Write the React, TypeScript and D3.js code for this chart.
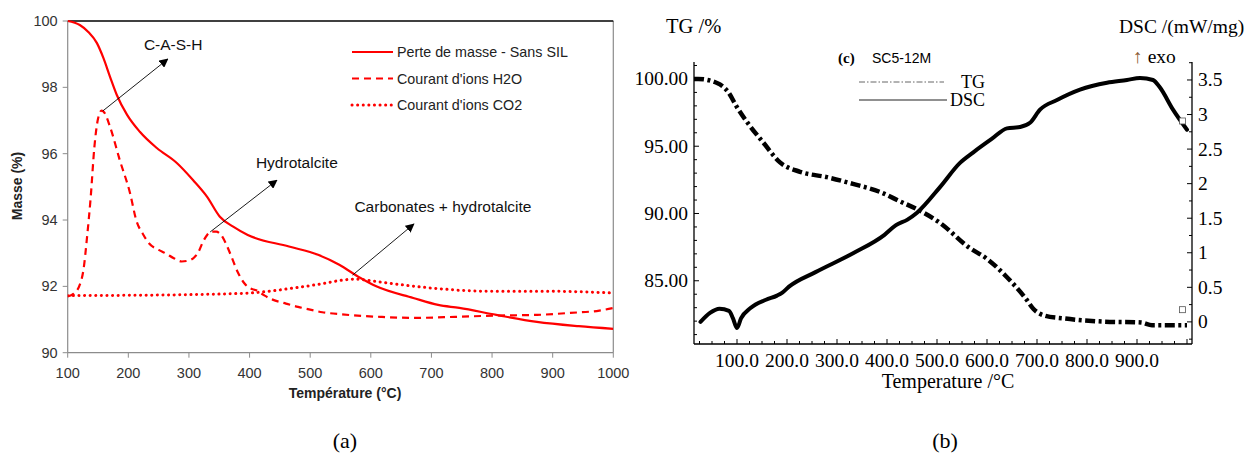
import React from 'react';
import * as d3 from 'd3';

// ---------- Panel (a) data ----------
const massT = [100, 120, 134, 148, 159, 170, 181, 198, 219, 247, 280, 307, 330, 351, 373, 397, 465, 513, 548, 583, 609, 670, 711, 746, 807, 874, 943, 1000];
const massV = [100, 99.88, 99.67, 99.34, 98.88, 98.31, 97.77, 97.17, 96.66, 96.17, 95.72, 95.2, 94.7, 94.1, 93.8, 93.55, 93.2, 92.95, 92.65, 92.25, 92.0, 91.65, 91.44, 91.35, 91.14, 90.93, 90.8, 90.72];

const h2oT = [100, 110, 120, 126, 132, 138, 144, 150, 156, 160, 170, 186, 203, 213, 225, 234, 250, 261, 275, 288, 300, 309, 316, 322, 330, 337, 345, 353, 362, 370, 380, 391, 400, 411, 425, 438, 460, 480, 500, 520, 545, 568, 616, 670, 739, 807, 874, 929, 977, 1000];
const h2oV = [91.7, 91.78, 92.05, 92.5, 93.5, 94.7, 96.2, 97.05, 97.3, 97.25, 96.8, 95.8, 94.8, 94.0, 93.55, 93.3, 93.1, 93.0, 92.85, 92.75, 92.78, 92.88, 93.05, 93.3, 93.55, 93.65, 93.65, 93.55, 93.25, 92.9, 92.45, 92.1, 91.95, 91.88, 91.72, 91.6, 91.48, 91.38, 91.3, 91.22, 91.17, 91.13, 91.08, 91.05, 91.08, 91.12, 91.14, 91.2, 91.27, 91.35];

const co2T = [100, 200, 300, 400, 440, 480, 520, 550, 575, 600, 650, 700, 750, 800, 900, 1000];
const co2V = [91.72, 91.73, 91.75, 91.8, 91.87, 91.97, 92.08, 92.18, 92.22, 92.17, 92.05, 91.95, 91.88, 91.85, 91.85, 91.8];

const aXTicks = [100, 200, 300, 400, 500, 600, 700, 800, 900, 1000];
const aYTicks = [90, 92, 94, 96, 98, 100];
const aLegend = ['Perte de masse - Sans SIL', "Courant d'ions H2O", "Courant d'ions CO2"];

// annotations: [label, textT, textV, fromT, fromV, toT, toV]
const aNotes: [string, number, number, number, number, number, number][] = [
  ['C-A-S-H', 274, 99.28, 158, 97.29, 265, 98.85],
  ['Hydrotalcite', 478, 95.72, 335, 93.64, 445, 95.2],
  ['Carbonates + hydrotalcite', 719, 94.4, 570, 92.34, 671, 93.88],
];

// ---------- Panel (b) data ----------
const tgT = [14, 22, 60, 82, 100, 126, 152, 186, 226, 280, 332, 386, 426, 466, 506, 563, 601, 639, 677, 693, 716, 754, 830, 908, 930, 982, 1000];
const tgV = [100, 100, 99.7, 99.05, 97.9, 96.5, 95.3, 93.8, 93.1, 92.7, 92.2, 91.6, 90.9, 90.2, 89.3, 87.5, 86.6, 85.3, 83.7, 82.9, 82.4, 82.2, 81.97, 81.9, 81.7, 81.7, 81.7];

const dscT = [27, 46, 65, 84, 92, 100, 108, 127, 158, 180, 190, 204, 257, 334, 395, 418, 441, 460, 506, 546, 572, 610, 640, 666, 686, 706, 740, 786, 840, 880, 906, 932, 946, 972, 1000];
const dscV = [0.0, 0.13, 0.19, 0.16, 0.05, -0.09, 0.05, 0.2, 0.32, 0.38, 0.42, 0.51, 0.72, 1.0, 1.26, 1.4, 1.48, 1.58, 1.95, 2.3, 2.45, 2.65, 2.8, 2.82, 2.88, 3.07, 3.21, 3.36, 3.46, 3.5, 3.53, 3.5, 3.39, 3.07, 2.78];

const bXTicks = [100, 200, 300, 400, 500, 600, 700, 800, 900];
const bYLeftTicks = [85, 90, 95, 100];
const bYRightTicks = [0, 0.5, 1, 1.5, 2, 2.5, 3, 3.5];

const RED = '#ff0000';
const SANS = 'Liberation Sans, Arial, sans-serif';
const SERIF = 'Liberation Serif, Times New Roman, serif';

export default function App() {
  // panel a scales
  const xA = d3.scaleLinear().domain([100, 1000]).range([67.7, 613.3]);
  const yA = d3.scaleLinear().domain([90, 100]).range([352.7, 21]);
  const mkA = (T: number[], V: number[]) =>
    d3.line<number>().x((_, i) => xA(T[i])).y((d) => yA(d)).curve(d3.curveMonotoneX)(V) || '';

  // panel b scales
  const xB = d3.scaleLinear().domain([14, 1010]).range([694, 1192]);
  const yB = d3.scaleLinear().domain([80.3, 101.26]).range([344, 62]);
  const yC = d3.scaleLinear().domain([-0.32, 3.76]).range([344, 62]);
  const tgPath = d3.line<number>().x((_, i) => xB(tgT[i])).y((d) => yB(d)).curve(d3.curveMonotoneX)(tgV) || '';
  const dscPath = d3.line<number>().x((_, i) => xB(dscT[i])).y((d) => yC(d)).curve(d3.curveMonotoneX)(dscV) || '';

  const bMinorX = d3.range(25, 1001, 25);
  const bMinorYL = d3.range(81, 101.5, 1);
  const bMinorYR = d3.range(-0.25, 3.76, 0.25);

  const legendStyles = [
    { dash: undefined, w: 2.2, cap: 'butt' },
    { dash: '7 5', w: 2.2, cap: 'butt' },
    { dash: '0.1 5.5', w: 3, cap: 'round' },
  ];

  return (
    <svg width={1248} height={462} style={{ position: 'absolute', left: 0, top: 0, background: '#fff' }}>
      <defs>
        <marker id="arr" viewBox="0 0 10 10" refX="9" refY="5" markerWidth="9" markerHeight="9" markerUnits="userSpaceOnUse" orient="auto">
          <path d="M0,0 L10,5 L0,10 z" fill="#000" />
        </marker>
        <clipPath id="clipA">
          <rect x={xA(100)} y={yA(100) - 2} width={xA(1000) - xA(100)} height={yA(90) - yA(100) + 2} />
        </clipPath>
      </defs>
      <rect x={0} y={0} width={1248} height={462} fill="#fff" />

      {/* ===== Panel (a) ===== */}
      <g fontFamily={SANS}>
        <line x1={xA(1000)} x2={xA(1000)} y1={yA(100)} y2={yA(90)} stroke="#8c8c8c" strokeWidth={1.2} />
        <line x1={xA(100)} x2={xA(100)} y1={yA(100)} y2={yA(90)} stroke="#8c8c8c" strokeWidth={1.2} />
        <line x1={xA(100)} x2={xA(1000)} y1={yA(90)} y2={yA(90)} stroke="#8c8c8c" strokeWidth={1.2} />
        <line x1={xA(100)} x2={xA(1000)} y1={yA(100)} y2={yA(100)} stroke="#000" strokeWidth={1.6} />
        {aXTicks.map((t) => (
          <g key={'ax' + t}>
            <line x1={xA(t)} x2={xA(t)} y1={yA(90)} y2={yA(90) + 5} stroke="#8c8c8c" />
            <text x={xA(t)} y={yA(90) + 25} textAnchor="middle" fontSize={14.5} fill="#333">{t}</text>
          </g>
        ))}
        {aYTicks.map((t) => (
          <g key={'ay' + t}>
            <line x1={xA(100) - 5} x2={xA(100)} y1={yA(t)} y2={yA(t)} stroke="#8c8c8c" />
            <text x={xA(100) - 10} y={yA(t) + 5} textAnchor="end" fontSize={14.5} fill="#333">{t}</text>
          </g>
        ))}
        <text x={345} y={398} textAnchor="middle" fontSize={14} fontWeight="bold" fill="#222">Température (°C)</text>
        <text transform={`translate(22,186) rotate(-90)`} textAnchor="middle" fontSize={14} fontWeight="bold" fill="#222">Masse (%)</text>

        <g clipPath="url(#clipA)">
          <path d={mkA(co2T, co2V)} fill="none" stroke={RED} strokeWidth={3} strokeDasharray="0.1 5.5" strokeLinecap="round" />
          <path d={mkA(h2oT, h2oV)} fill="none" stroke={RED} strokeWidth={2.2} strokeDasharray="7 5" />
          <path d={mkA(massT, massV)} fill="none" stroke={RED} strokeWidth={2.2} />
        </g>

        {aLegend.map((s, i) => (
          <g key={s} transform={`translate(0,${52 + i * 26.5})`}>
            <line x1={352} x2={393} y1={0} y2={0} stroke={RED} strokeWidth={legendStyles[i].w}
              strokeDasharray={legendStyles[i].dash} strokeLinecap={legendStyles[i].cap as any} />
            <text x={397} y={5} fontSize={14.3} fill="#222">{s}</text>
          </g>
        ))}

        {aNotes.map(([label, tt, tv, ft, fv, et, ev]) => (
          <g key={label}>
            <line x1={xA(ft)} y1={yA(fv)} x2={xA(et)} y2={yA(ev)} stroke="#000" strokeWidth={0.9} markerEnd="url(#arr)" />
            <text x={xA(tt)} y={yA(tv) + 5.5} textAnchor="middle" fontSize={15.5} fill="#111">{label}</text>
          </g>
        ))}
      </g>

      {/* ===== Panel (b) ===== */}
      <g fontFamily={SERIF} fill="#000">
        <line x1={xB(14)} x2={xB(14)} y1={62} y2={344} stroke="#000" strokeWidth={1.3} />
        <line x1={xB(1010)} x2={xB(1010)} y1={62} y2={344} stroke="#000" strokeWidth={1.3} />
        <line x1={xB(14)} x2={xB(1010)} y1={344} y2={344} stroke="#000" strokeWidth={1.3} />
        {bMinorX.map((t) => (
          <line key={'bx' + t} x1={xB(t)} x2={xB(t)} y1={344} y2={344 - (t % 100 === 0 ? 5 : 3)} stroke="#000" />
        ))}
        {bMinorYL.map((t) => (
          <line key={'byl' + t} x1={694} x2={694 + (t % 5 === 0 ? 5 : 3)} y1={yB(t)} y2={yB(t)} stroke="#000" />
        ))}
        {bMinorYR.map((t) => (
          <line key={'byr' + t} x1={1192} x2={1192 - (Math.abs((t * 2) % 1) < 1e-6 ? 5 : 3)} y1={yC(t)} y2={yC(t)} stroke="#000" />
        ))}
        {bXTicks.map((t) => (
          <text key={'bxl' + t} x={xB(t)} y={367} textAnchor="middle" fontSize={19.5}>{t.toFixed(1)}</text>
        ))}
        {bYLeftTicks.map((t) => (
          <text key={'byll' + t} x={688} y={yB(t) + 6.5} textAnchor="end" fontSize={19.5}>{t.toFixed(2)}</text>
        ))}
        {bYRightTicks.map((t) => (
          <text key={'byrl' + t} x={1198} y={yC(t) + 6.5} textAnchor="start" fontSize={19.5}>{String(t)}</text>
        ))}
        <text x={948} y={388} textAnchor="middle" fontSize={20}>Temperature /°C</text>
        <text x={666} y={33} fontSize={20.5}>TG /%</text>
        <text x={1119} y={33} fontSize={19.5}>DSC /(mW/mg)</text>
        <text x={1133} y={63} fontSize={19.5}><tspan fill="#8a5a30">↑</tspan><tspan> exo</tspan></text>

        <text x={838} y={63} fontSize={15} fontWeight="bold">(c)</text>
        <text x={872} y={63} fontSize={14} fontFamily={SANS}>SC5-12M</text>
        <line x1={859} x2={944} y1={82} y2={82} stroke="#555" strokeWidth={0.9} strokeDasharray="6 2 1.5 2" />
        <text x={985} y={88} textAnchor="end" fontSize={18}>TG</text>
        <line x1={859} x2={947} y1={100} y2={100} stroke="#222" strokeWidth={1.2} />
        <text x={985} y={106} textAnchor="end" fontSize={18}>DSC</text>

        <path d={dscPath} fill="none" stroke="#000" strokeWidth={4} strokeLinejoin="round" strokeLinecap="round" />
        <path d={tgPath} fill="none" stroke="#000" strokeWidth={4.5} strokeDasharray="10 3.5 3 3.5" />

        <rect x={xB(985)} y={yC(2.95)} width={6} height={6} fill="#fff" stroke="#555" strokeWidth={0.8} />
        <rect x={xB(985)} y={yC(0.22)} width={6} height={6} fill="#fff" stroke="#555" strokeWidth={0.8} />
      </g>

      <text x={345} y={448} textAnchor="middle" fontSize={22} fontFamily={SERIF}>(a)</text>
      <text x={945} y={448} textAnchor="middle" fontSize={22} fontFamily={SERIF}>(b)</text>
    </svg>
  );
}
